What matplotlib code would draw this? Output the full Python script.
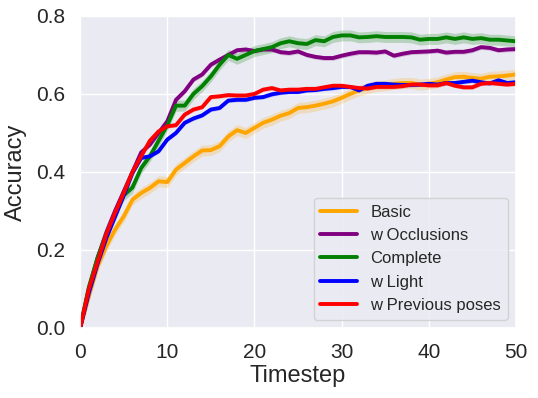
import numpy as np
import matplotlib
matplotlib.use("Agg")
import matplotlib.pyplot as plt
import seaborn as sns

sns.set_theme(style="darkgrid")
plt.rcParams['font.family'] = ['Liberation Sans', 'DejaVu Sans']

timesteps = np.arange(51)

basic = [0.0, 0.081, 0.158, 0.21, 0.252, 0.286, 0.329, 0.346, 0.359, 0.376, 0.374,
         0.406, 0.423, 0.44, 0.455, 0.456, 0.466, 0.491, 0.507, 0.50, 0.513,
         0.526, 0.534, 0.544, 0.551, 0.564, 0.566, 0.57, 0.575, 0.581, 0.59,
         0.60, 0.609, 0.615, 0.62, 0.622, 0.626, 0.628, 0.628, 0.624, 0.626,
         0.63, 0.637, 0.643, 0.644, 0.641, 0.639, 0.644, 0.645, 0.647, 0.65]
occlusions = [0.0, 0.10, 0.18, 0.245, 0.30, 0.35, 0.40, 0.45, 0.47, 0.50, 0.53,
              0.585, 0.607, 0.637, 0.65, 0.675, 0.688, 0.70, 0.712, 0.714, 0.71,
              0.714, 0.714, 0.707, 0.705, 0.709, 0.70, 0.695, 0.692, 0.692, 0.698,
              0.703, 0.707, 0.707, 0.706, 0.709, 0.698, 0.703, 0.707, 0.708, 0.709,
              0.711, 0.706, 0.708, 0.708, 0.712, 0.72, 0.718, 0.712, 0.714, 0.715]
complete = [0.0, 0.105, 0.18, 0.24, 0.29, 0.34, 0.36, 0.41, 0.44, 0.48, 0.52,
            0.57, 0.57, 0.60, 0.62, 0.645, 0.675, 0.70, 0.69, 0.70, 0.71,
            0.715, 0.72, 0.73, 0.735, 0.73, 0.728, 0.738, 0.735, 0.746, 0.75,
            0.75, 0.745, 0.746, 0.748, 0.746, 0.746, 0.746, 0.745, 0.739, 0.741,
            0.741, 0.745, 0.741, 0.745, 0.741, 0.743, 0.739, 0.739, 0.737, 0.735]
light = [0.0, 0.09, 0.165, 0.23, 0.285, 0.34, 0.397, 0.436, 0.44, 0.453, 0.483,
         0.50, 0.526, 0.537, 0.545, 0.56, 0.564, 0.583, 0.585, 0.585, 0.59,
         0.592, 0.599, 0.603, 0.605, 0.605, 0.609, 0.61, 0.613, 0.615, 0.618,
         0.618, 0.609, 0.621, 0.626, 0.626, 0.624, 0.623, 0.623, 0.624, 0.626,
         0.624, 0.628, 0.628, 0.631, 0.634, 0.63, 0.627, 0.635, 0.628, 0.63]
prev_poses = [0.0, 0.10, 0.17, 0.24, 0.295, 0.346, 0.40, 0.44, 0.48, 0.504, 0.517,
              0.52, 0.547, 0.56, 0.566, 0.592, 0.594, 0.597, 0.596, 0.596, 0.60,
              0.611, 0.615, 0.609, 0.611, 0.611, 0.613, 0.613, 0.617, 0.621, 0.621,
              0.618, 0.615, 0.614, 0.618, 0.618, 0.618, 0.62, 0.624, 0.624, 0.622,
              0.622, 0.628, 0.621, 0.617, 0.617, 0.626, 0.628, 0.626, 0.624, 0.626]

labels = ["Basic", "w Occlusions", "Complete", "w Light", "w Previous poses"]
colors = ["orange", "purple", "green", "blue", "red"]
series = [basic, occlusions, complete, light, prev_poses]
spread = [0.014, 0.006, 0.014, 0.005, 0.005]

fig = plt.figure(figsize=(5.38, 3.98), dpi=100)
ax = fig.add_axes([0.149, 0.176, 0.81, 0.784])

for vals, lab, col, sd in zip(series, labels, colors, spread):
    vals = np.array(vals)
    ax.fill_between(timesteps, vals - sd, vals + sd, color=col, alpha=0.22, lw=0)
    ax.plot(timesteps, vals, color=col, lw=2.8, label=lab)

ax.set_xlim(0, 50)
ax.set_ylim(0, 0.8)
ax.set_xticks([0, 10, 20, 30, 40, 50])
ax.set_yticks([0.0, 0.2, 0.4, 0.6, 0.8])
ax.tick_params(labelsize=15, colors="#262626", pad=5)
ax.set_xlabel("Timestep", fontsize=17, labelpad=2)
ax.set_ylabel("Accuracy", fontsize=17, labelpad=6)
ax.legend(loc="lower right", fontsize=12, frameon=True, handlelength=2.2)

fig.savefig("out.png", dpi=100)
